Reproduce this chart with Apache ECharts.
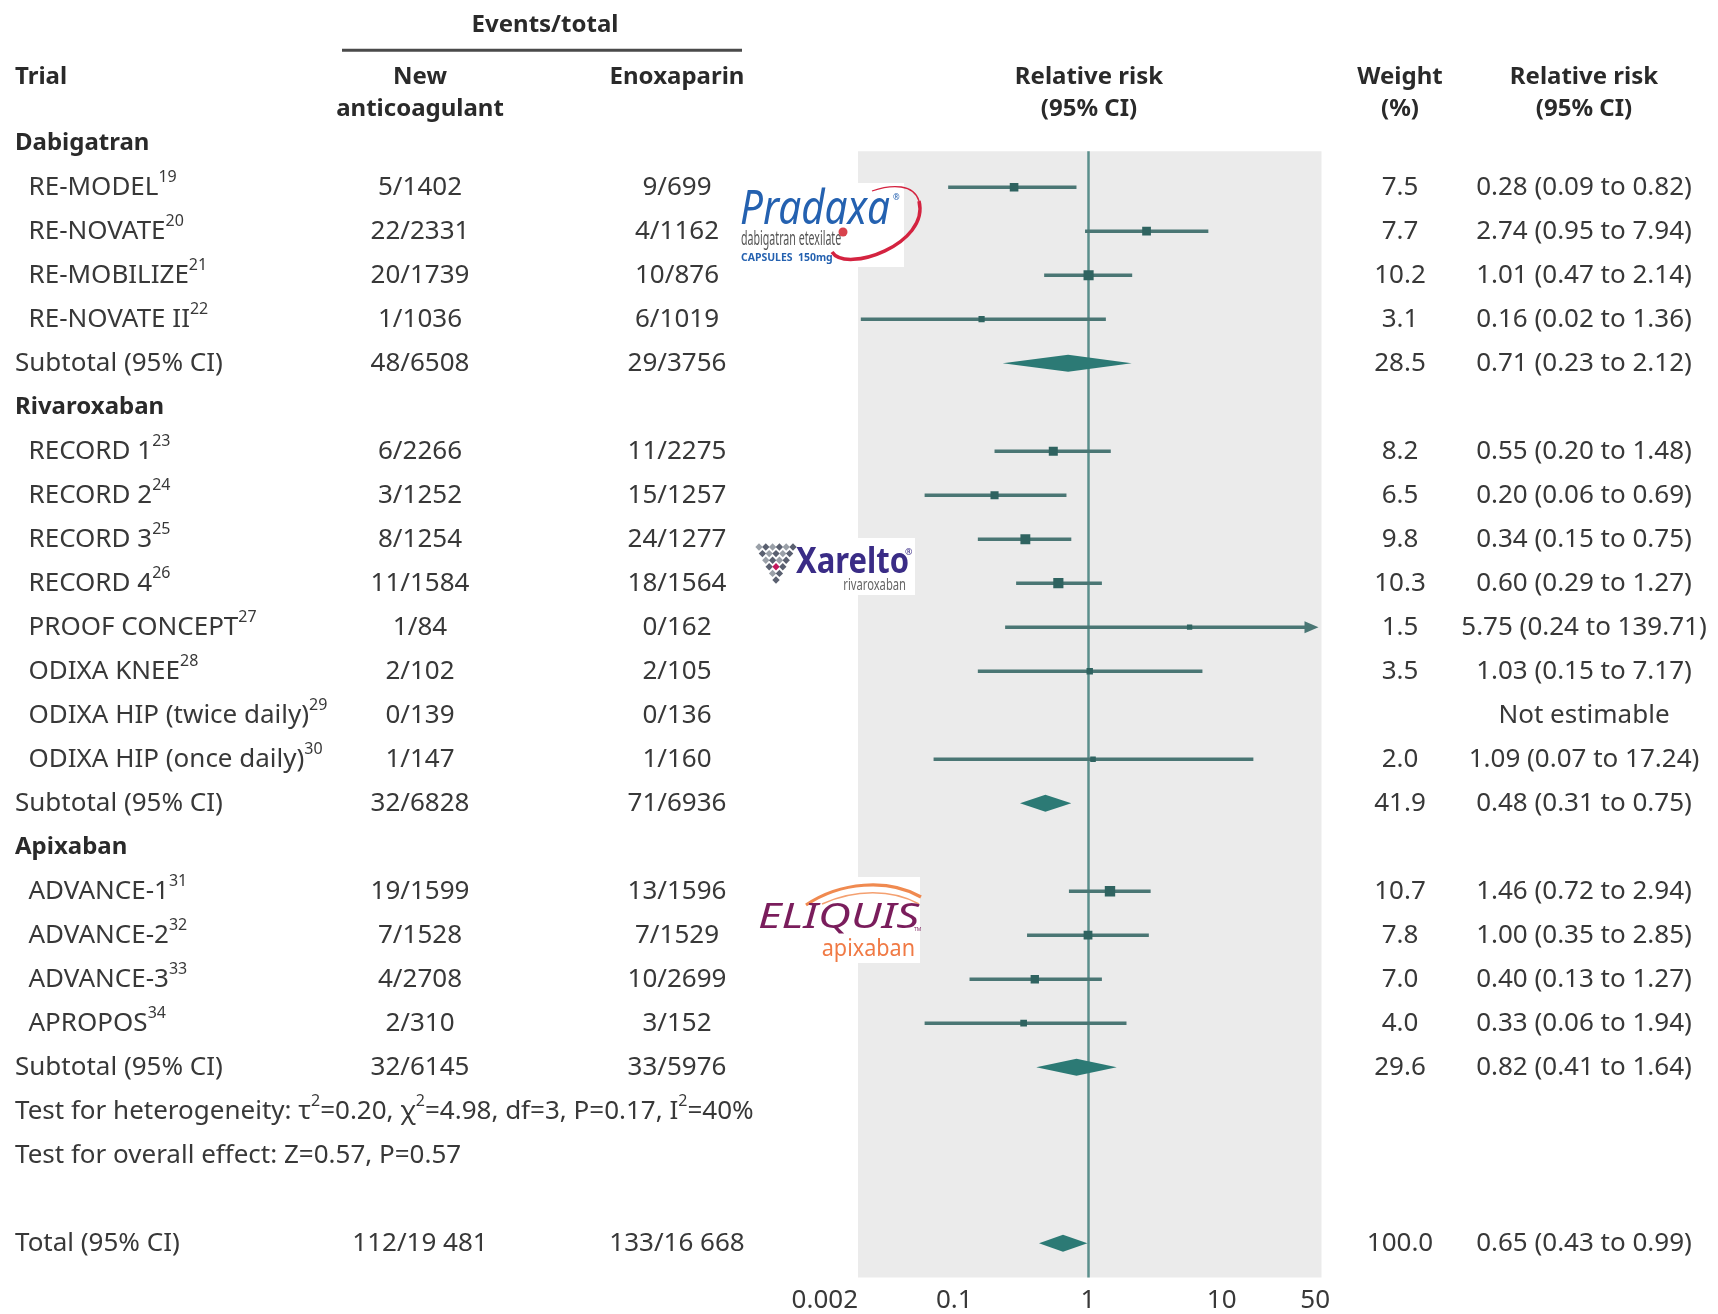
<!DOCTYPE html>
<html>
<head>
<meta charset="utf-8">
<script src="https://cdn.jsdelivr.net/npm/echarts@6/dist/echarts.min.js"></script>
<style>
html,body{margin:0;padding:0;background:#fff;}
#chart{width:1718px;height:1314px;}
</style>
</head>
<body>
<div id="chart"></div>
<script>
// ================= DATA =================
const groupNames = ['Dabigatran', 'Rivaroxaban', 'Apixaban'];
const trialNames = ['RE-MODEL', 'RE-NOVATE', 'RE-MOBILIZE', 'RE-NOVATE II',
  'RECORD 1', 'RECORD 2', 'RECORD 3', 'RECORD 4', 'PROOF CONCEPT', 'ODIXA KNEE',
  'ODIXA HIP (twice daily)', 'ODIXA HIP (once daily)',
  'ADVANCE-1', 'ADVANCE-2', 'ADVANCE-3', 'APROPOS'];
const trialRefs = ['19', '20', '21', '22', '23', '24', '25', '26', '27', '28', '29', '30', '31', '32', '33', '34'];
const trialGroup = [0, 0, 0, 0, 1, 1, 1, 1, 1, 1, 1, 1, 2, 2, 2, 2];
const newEvents = ['5/1402', '22/2331', '20/1739', '1/1036', '6/2266', '3/1252', '8/1254', '11/1584',
  '1/84', '2/102', '0/139', '1/147', '19/1599', '7/1528', '4/2708', '2/310'];
const enoxEvents = ['9/699', '4/1162', '10/876', '6/1019', '11/2275', '15/1257', '24/1277', '18/1564',
  '0/162', '2/105', '0/136', '1/160', '13/1596', '7/1529', '10/2699', '3/152'];
const trialWeight = [7.5, 7.7, 10.2, 3.1, 8.2, 6.5, 9.8, 10.3, 1.5, 3.5, null, 2.0, 10.7, 7.8, 7.0, 4.0];
const trialRR   = [0.28, 2.74, 1.01, 0.16, 0.55, 0.20, 0.34, 0.60, 5.75, 1.03, null, 1.09, 1.46, 1.00, 0.40, 0.33];
const trialLow  = [0.09, 0.95, 0.47, 0.02, 0.20, 0.06, 0.15, 0.29, 0.24, 0.15, null, 0.07, 0.72, 0.35, 0.13, 0.06];
const trialHigh = [0.82, 7.94, 2.14, 1.36, 1.48, 0.69, 0.75, 1.27, 139.71, 7.17, null, 17.24, 2.94, 2.85, 1.27, 1.94];

const subtotalNew = ['48/6508', '32/6828', '32/6145'];
const subtotalEnox = ['29/3756', '71/6936', '33/5976'];
const subtotalWeight = [28.5, 41.9, 29.6];
const subtotalRR = [0.71, 0.48, 0.82];
const subtotalLow = [0.23, 0.31, 0.41];
const subtotalHigh = [2.12, 0.75, 1.64];

const totalNew = '112/19 481';
const totalEnox = '133/16 668';
const totalWeight = 100.0;
const totalRR = 0.65, totalLow = 0.43, totalHigh = 0.99;

const testLines = ['Test for heterogeneity: \u03c4{sup|2}=0.20, \u03c7{sup|2}=4.98, df=3, P=0.17, I{sup|2}=40%',
  'Test for overall effect: Z=0.57, P=0.57'];

const tickLabels = ['0.002', '0.1', '1', '10', '50'];
const tickValues = [0.002, 0.1, 1, 10, 50];

// ================= LAYOUT / STYLE =================
const W = 1718, H = 1314;
const ROW0_Y = 143.2, ROW_H = 44.0;
const COL = { group: 15, trial: 28.5, newC: 420, enoxC: 677, weightC: 1400, rrC: 1584, plotC: 1089, eventsC: 545 };
const HEAD = { events: -2.69, line1: -1.49, line2: -0.77, rule: -2.114 };
const PLOT = { left: 858, right: 1321.5, top: 151.2, bottom: 1277.6 };
const X_MIN = -1.72, X_MAX = 1.746; // log10(relative risk)
const FONT = "'Noto Sans', sans-serif";
const TXT = '#383838', BOLD_TXT = '#2a2a2a';
const REG = 26, BOLD = 24;
const CI_COLOR = '#4a7674', SQ_COLOR = '#2f6360', DIA_COLOR = '#2c7a75', VLINE = '#5b8f8c';

const yMinPlot = (PLOT.top - ROW0_Y) / ROW_H, yMaxPlot = (PLOT.bottom - ROW0_Y) / ROW_H;
const yMinText = -ROW0_Y / ROW_H, yMaxText = (H - ROW0_Y) / ROW_H;

// ================= ROWS =================
const rows = [];
let rr = 0;
groupNames.forEach((g, gi) => {
  rows.push({ kind: 'group', row: rr++, gi });
  trialNames.forEach((n, i) => { if (trialGroup[i] === gi) rows.push({ kind: 'trial', row: rr++, i }); });
  rows.push({ kind: 'subtotal', row: rr++, gi });
});
testLines.forEach((t, ti) => rows.push({ kind: 'test', row: rr++, ti }));
rr++; // blank row
rows.push({ kind: 'total', row: rr++ });

const fmtCI = (r, l, h) => r.toFixed(2) + ' (' + l.toFixed(2) + ' to ' + h.toFixed(2) + ')';

// ================= TEXT ITEMS =================
const texts = [];
function T(x, row, text, bold, align) { texts.push({ x, row, text, bold: !!bold, align: align || 'center' }); }

T(COL.eventsC, HEAD.events, 'Events/total', true);
T(COL.group, HEAD.line1, 'Trial', true, 'left');
T(COL.newC, HEAD.line1, 'New', true); T(COL.newC, HEAD.line2, 'anticoagulant', true);
T(COL.enoxC, HEAD.line1, 'Enoxaparin', true);
T(COL.plotC, HEAD.line1, 'Relative risk', true); T(COL.plotC, HEAD.line2, '(95% CI)', true);
T(COL.weightC, HEAD.line1, 'Weight', true); T(COL.weightC, HEAD.line2, '(%)', true);
T(COL.rrC, HEAD.line1, 'Relative risk', true); T(COL.rrC, HEAD.line2, '(95% CI)', true);

rows.forEach(r => {
  if (r.kind === 'group') {
    T(COL.group, r.row, groupNames[r.gi], true, 'left');
  } else if (r.kind === 'trial') {
    const i = r.i;
    T(COL.trial, r.row, trialNames[i] + '{sup|' + trialRefs[i] + '}', false, 'left');
    T(COL.newC, r.row, newEvents[i]);
    T(COL.enoxC, r.row, enoxEvents[i]);
    if (trialWeight[i] != null) T(COL.weightC, r.row, trialWeight[i].toFixed(1));
    T(COL.rrC, r.row, trialRR[i] == null ? 'Not estimable' : fmtCI(trialRR[i], trialLow[i], trialHigh[i]));
  } else if (r.kind === 'subtotal') {
    const g = r.gi;
    T(COL.group, r.row, 'Subtotal (95% CI)', false, 'left');
    T(COL.newC, r.row, subtotalNew[g]);
    T(COL.enoxC, r.row, subtotalEnox[g]);
    T(COL.weightC, r.row, subtotalWeight[g].toFixed(1));
    T(COL.rrC, r.row, fmtCI(subtotalRR[g], subtotalLow[g], subtotalHigh[g]));
  } else if (r.kind === 'test') {
    T(COL.group, r.row, testLines[r.ti], false, 'left');
  } else if (r.kind === 'total') {
    T(COL.group, r.row, 'Total (95% CI)', false, 'left');
    T(COL.newC, r.row, totalNew);
    T(COL.enoxC, r.row, totalEnox);
    T(COL.weightC, r.row, totalWeight.toFixed(1));
    T(COL.rrC, r.row, fmtCI(totalRR, totalLow, totalHigh));
  }
});

const rules = [{ x1: 342, x2: 742, row: HEAD.rule }];

// ================= PLOT ITEMS =================
const ciItems = rows.filter(r => r.kind === 'trial' && trialRR[r.i] != null)
  .map(r => ({ row: r.row, rr: trialRR[r.i], lo: trialLow[r.i], hi: trialHigh[r.i], w: trialWeight[r.i] }));
const diaItems = rows.filter(r => r.kind === 'subtotal' || r.kind === 'total').map(r => r.kind === 'total'
  ? { row: r.row, rr: totalRR, lo: totalLow, hi: totalHigh }
  : { row: r.row, rr: subtotalRR[r.gi], lo: subtotalLow[r.gi], hi: subtotalHigh[r.gi] });

const clampX = v => Math.min(Math.max(v, X_MIN), X_MAX);
const tickPos = tickValues.map(v => clampX(Math.log10(v)));

const RICH = { sup: { fontSize: 16, fontFamily: FONT, fill: TXT, padding: [0, 0, 20, 0] } };

// ================= LOGOS (decoration) =================
const logos = [];
// Pradaxa
logos.push({ type: 'rect', z: 50, shape: { x: 738, y: 183, width: 166, height: 84 }, style: { fill: '#ffffff' } });
logos.push({ type: 'text', z: 51, x: 740, y: 211, scaleX: 0.86, style: { text: 'Pradaxa', fontSize: 47, fontStyle: 'italic', fontFamily: FONT, fill: '#2461b0', verticalAlign: 'middle' } });
logos.push({ type: 'text', z: 51, x: 893, y: 194, style: { text: '\u00ae', fontSize: 8, fontFamily: FONT, fill: '#2461b0' } });
logos.push({ type: 'text', z: 51, x: 741, y: 240, scaleX: 0.56, style: { text: 'dabigatran etexilate', fontSize: 19, fontFamily: FONT, fill: '#555', verticalAlign: 'middle' } });
logos.push({ type: 'text', z: 51, x: 741, y: 258, scaleX: 0.95, style: { text: 'CAPSULES  150mg', fontSize: 11, fontWeight: 'bold', fontFamily: FONT, fill: '#2461b0', verticalAlign: 'middle' } });
logos.push({ type: 'bezierCurve', z: 52, shape: { x1: 832, y1: 252, cpx1: 846, cpy1: 274, cpx2: 930, cpy2: 244, x2: 919, y2: 201 }, style: { stroke: '#d42340', lineWidth: 3.5, fill: null } });
logos.push({ type: 'bezierCurve', z: 52, shape: { x1: 919, y1: 201, cpx1: 914, cpy1: 184, cpx2: 892, cpy2: 184, x2: 872, y2: 191 }, style: { stroke: '#d42340', lineWidth: 1.3, fill: null } });
logos.push({ type: 'circle', z: 53, shape: { cx: 843, cy: 232, r: 4.5 }, style: { fill: '#d8424c' } });
// Xarelto
logos.push({ type: 'rect', z: 50, shape: { x: 754, y: 538, width: 161, height: 57 }, style: { fill: '#ffffff' } });
for (let r = 0; r < 6; r++) {
  for (let c = 0; c < 6 - r; c++) {
    const pink = (r === 3 && c === 1);
    logos.push({ type: 'rect', z: 51, x: 759 + c * 6.8 + r * 3.4, y: 547 + r * 6.6, rotation: Math.PI / 4,
      shape: { x: -2.6, y: -2.6, width: 5.2, height: 5.2 },
      style: { fill: pink ? '#c2185b' : ((r + c) % 2 ? '#5a6070' : '#9aa0a8') } });
  }
}
logos.push({ type: 'text', z: 51, x: 796, y: 563, scaleX: 0.86, style: { text: 'Xarelto', fontSize: 36, fontWeight: 'bold', fontFamily: FONT, fill: '#3a2c86', verticalAlign: 'middle' } });
logos.push({ type: 'text', z: 51, x: 905, y: 548, style: { text: '\u00ae', fontSize: 9, fontFamily: FONT, fill: '#3a2c86' } });
logos.push({ type: 'text', z: 51, x: 906, y: 585, scaleX: 0.7, style: { text: 'rivaroxaban', fontSize: 16, fontFamily: FONT, fill: '#666', align: 'right', verticalAlign: 'middle' } });
// Eliquis
logos.push({ type: 'rect', z: 50, shape: { x: 755, y: 877, width: 165, height: 86 }, style: { fill: '#ffffff' } });
logos.push({ type: 'bezierCurve', z: 51, shape: { x1: 806, y1: 905, cpx1: 840, cpy1: 882, cpx2: 888, cpy2: 878, x2: 921, y2: 897 }, style: { stroke: '#f08a50', lineWidth: 3.2, fill: null } });
logos.push({ type: 'bezierCurve', z: 51, shape: { x1: 822, y1: 904, cpx1: 855, cpy1: 889, cpx2: 892, cpy2: 889, x2: 919, y2: 904 }, style: { stroke: '#f4a070', lineWidth: 1.6, fill: null } });
logos.push({ type: 'text', z: 51, x: 758, y: 918, scaleX: 1.3, style: { text: 'ELIQUIS', fontSize: 35, fontStyle: 'italic', fontFamily: FONT, fill: '#7a1d5c', verticalAlign: 'middle' } });
logos.push({ type: 'text', z: 51, x: 914, y: 927, style: { text: 'TM', fontSize: 5, fontFamily: FONT, fill: '#7a1d5c' } });
logos.push({ type: 'text', z: 51, x: 915, y: 949, scaleX: 0.9, style: { text: 'apixaban', fontSize: 24, fontFamily: FONT, fill: '#f07a45', align: 'right', verticalAlign: 'middle' } });

// ================= CHART =================
const chart = echarts.init(document.getElementById('chart'), null, { renderer: 'canvas' });
chart.setOption({
  animation: false,
  backgroundColor: '#ffffff',
  grid: [
    { left: PLOT.left, top: PLOT.top, width: PLOT.right - PLOT.left, height: PLOT.bottom - PLOT.top,
      show: true, backgroundColor: '#ebebeb', borderWidth: 0, containLabel: false },
    { left: 0, top: 0, width: W, height: H, containLabel: false }
  ],
  xAxis: [
    { type: 'value', gridIndex: 0, min: X_MIN, max: X_MAX,
      axisLine: { show: false }, axisTick: { show: false }, splitLine: { show: false },
      axisLabel: { customValues: tickPos, margin: 10, fontSize: REG, fontFamily: FONT, color: TXT, alignMinLabel: 'right',
        formatter: v => { const k = tickPos.findIndex(p => Math.abs(p - v) < 1e-9); return k >= 0 ? tickLabels[k] : ''; } } },
    { type: 'value', gridIndex: 1, min: 0, max: W, show: false }
  ],
  yAxis: [
    { type: 'value', gridIndex: 0, inverse: true, min: yMinPlot, max: yMaxPlot, show: false },
    { type: 'value', gridIndex: 1, inverse: true, min: yMinText, max: yMaxText, show: false }
  ],
  graphic: { elements: logos },
  series: [
    { // confidence intervals + weighted squares
      type: 'custom', xAxisIndex: 0, yAxisIndex: 0, z: 4, clip: true,
      data: ciItems.map(d => [Math.log10(d.rr), d.row]),
      renderItem: (params, api) => {
        const d = ciItems[params.dataIndex];
        const y = api.coord([0, d.row])[1];
        const xc = api.coord([Math.log10(d.rr), d.row])[0];
        const hiV = Math.log10(d.hi);
        const arrow = hiV > X_MAX;
        const xl = api.coord([clampX(Math.log10(d.lo)), d.row])[0];
        const xh = api.coord([clampX(hiV), d.row])[0];
        const s = 4.5 + 0.55 * d.w;
        const ch = [
          { type: 'line', shape: { x1: xl, y1: y, x2: arrow ? xh - 12 : xh, y2: y }, style: { stroke: CI_COLOR, lineWidth: 3.5 } },
          { type: 'rect', shape: { x: xc - s / 2, y: y - s / 2, width: s, height: s }, style: { fill: SQ_COLOR } }
        ];
        if (arrow) ch.push({ type: 'polygon', shape: { points: [[xh - 3, y], [xh - 17, y - 6], [xh - 17, y + 6]] }, style: { fill: CI_COLOR } });
        return { type: 'group', children: ch };
      }
    },
    { // pooled estimates (diamonds) + line of no effect
      type: 'custom', xAxisIndex: 0, yAxisIndex: 0, z: 5, clip: true,
      data: diaItems.map(d => [Math.log10(d.rr), d.row]),
      renderItem: (params, api) => {
        const d = diaItems[params.dataIndex];
        const c = api.coord([Math.log10(d.rr), d.row]);
        const l = api.coord([Math.log10(d.lo), d.row]);
        const h = api.coord([Math.log10(d.hi), d.row]);
        const hh = 8.5;
        return { type: 'polygon', shape: { points: [[l[0], c[1]], [c[0], c[1] - hh], [h[0], c[1]], [c[0], c[1] + hh]] }, style: { fill: DIA_COLOR } };
      },
      markLine: { silent: true, symbol: ['none', 'none'], label: { show: false }, z: 3,
        lineStyle: { color: VLINE, width: 2.5, type: 'solid' }, data: [{ xAxis: 0 }] }
    },
    { // table text
      type: 'custom', xAxisIndex: 1, yAxisIndex: 1, z: 6, clip: false, silent: true,
      data: texts.map(t => [t.x, t.row]),
      renderItem: (params, api) => {
        const t = texts[params.dataIndex];
        const p = api.coord([t.x, t.row]);
        return { type: 'text', x: p[0], y: p[1], style: {
          text: t.text, align: t.align, verticalAlign: 'middle',
          fill: t.bold ? BOLD_TXT : TXT, fontSize: t.bold ? BOLD : REG,
          fontWeight: t.bold ? 'bold' : 'normal', fontFamily: FONT, rich: RICH } };
      }
    },
    { // header rule
      type: 'custom', xAxisIndex: 1, yAxisIndex: 1, z: 6, clip: false, silent: true,
      data: rules.map(r => [r.x1, r.row]),
      renderItem: (params, api) => {
        const r = rules[params.dataIndex];
        const a = api.coord([r.x1, r.row]), b = api.coord([r.x2, r.row]);
        return { type: 'line', shape: { x1: a[0], y1: a[1], x2: b[0], y2: b[1] }, style: { stroke: '#4a4a4a', lineWidth: 3 } };
      }
    }
  ]
});
</script>
</body>
</html>
